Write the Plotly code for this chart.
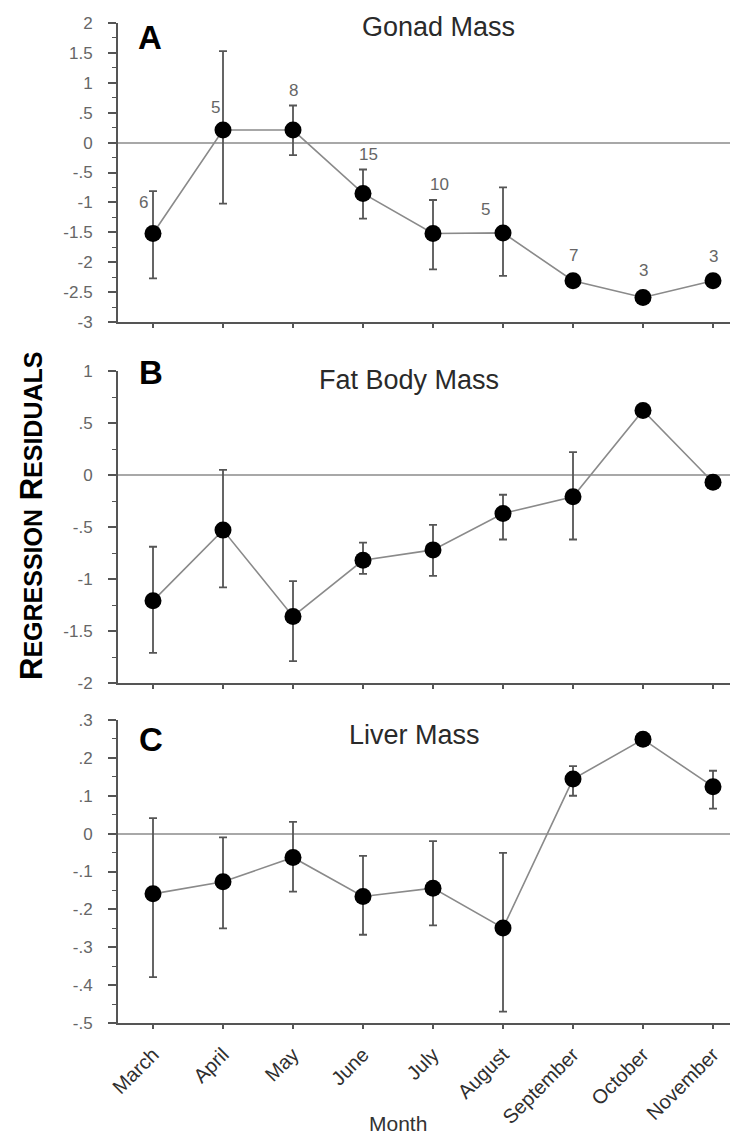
import plotly.graph_objects as go

months = ["March", "April", "May", "June", "July", "August", "September", "October", "November"]

# Panel A: Gonad Mass
gonad_mean = [-1.52, 0.21, 0.21, -0.85, -1.52, -1.51, -2.31, -2.59, -2.31]
gonad_err_up = [0.71, 1.32, 0.41, 0.40, 0.56, 0.76, None, None, None]
gonad_err_down = [0.75, 1.23, 0.42, 0.42, 0.60, 0.72, None, None, None]
gonad_n = [6, 5, 8, 15, 10, 5, 7, 3, 3]

# Panel B: Fat Body Mass
fat_mean = [-1.21, -0.53, -1.36, -0.82, -0.72, -0.37, -0.21, 0.62, -0.07]
fat_err_up = [0.52, 0.58, 0.34, 0.17, 0.24, 0.18, 0.43, None, None]
fat_err_down = [0.50, 0.55, 0.43, 0.13, 0.25, 0.25, 0.41, None, None]

# Panel C: Liver Mass
liver_mean = [-0.159, -0.127, -0.063, -0.166, -0.144, -0.249, 0.144, 0.249, 0.124]
liver_err_up = [0.200, 0.117, 0.094, 0.107, 0.124, 0.198, 0.034, None, 0.042]
liver_err_down = [0.220, 0.123, 0.090, 0.101, 0.098, 0.221, 0.044, None, 0.058]

tick_vals_a = [2, 1.5, 1, 0.5, 0, -0.5, -1, -1.5, -2, -2.5, -3]
tick_text_a = ["2", "1.5", "1", ".5", "0", "-.5", "-1", "-1.5", "-2", "-2.5", "-3"]
tick_vals_b = [1, 0.5, 0, -0.5, -1, -1.5, -2]
tick_text_b = ["1", ".5", "0", "-.5", "-1", "-1.5", "-2"]
tick_vals_c = [0.3, 0.2, 0.1, 0, -0.1, -0.2, -0.3, -0.4, -0.5]
tick_text_c = [".3", ".2", ".1", "0", "-.1", "-.2", "-.3", "-.4", "-.5"]

panel_titles = ["Gonad Mass", "Fat Body Mass", "Liver Mass"]
panel_letters = ["A", "B", "C"]

FONT = "Liberation Sans, Arial, sans-serif"
W, H = 738, 1135
ML, MR, MT, MB = 110, 0, 15, 120
PW, PH = W - ML - MR, H - MT - MB


def px(xp, yp):
    # page pixel -> paper coords
    return (xp - ML) / PW, (H - MB - yp) / PH


fig = go.Figure()

panels = [
    (gonad_mean, gonad_err_up, gonad_err_down, "x", "y"),
    (fat_mean, fat_err_up, fat_err_down, "x2", "y2"),
    (liver_mean, liver_err_up, liver_err_down, "x3", "y3"),
]

for mean, eu, ed, xa, ya in panels:
    fig.add_trace(go.Scatter(
        x=months, y=mean, mode="lines+markers",
        line=dict(color="#8a8a8a", width=1.6),
        marker=dict(color="black", size=17),
        error_y=dict(type="data", symmetric=False, array=eu, arrayminus=ed,
                     color="#555555", thickness=1.8, width=4),
        xaxis=xa, yaxis=ya, showlegend=False, hoverinfo="skip",
    ))

# domains from page pixel rows of each panel (top, bottom)
panel_rows = [(15, 314), (363, 675), (712, 1015)]
domains = []
for top, bot in panel_rows:
    domains.append((px(0, bot)[1], px(0, top)[1]))
ranges = [(-3, 2), (-2, 1), (-0.5, 0.3)]
ticks = [(tick_vals_a, tick_text_a, 0.25), (tick_vals_b, tick_text_b, 0.25), (tick_vals_c, tick_text_c, 0.05)]
xrange_ = [-0.5, -0.5 + PW / 70.0]

layout = dict(
    width=W, height=H,
    margin=dict(l=ML, r=MR, t=MT, b=MB),
    paper_bgcolor="white", plot_bgcolor="white",
    font=dict(family=FONT),
    showlegend=False,
)

for i in range(3):
    sfx = "" if i == 0 else str(i + 1)
    tv, tt, mdt = ticks[i]
    layout["xaxis" + sfx] = dict(
        domain=[0, 1], range=xrange_, anchor="y" + sfx,
        type="category", categoryorder="array", categoryarray=months,
        showgrid=False, zeroline=False,
        showline=True, linecolor="#555555", linewidth=2,
        ticks="outside", ticklen=4, tickwidth=1.5, tickcolor="#555555",
        tickmode="array", tickvals=months,
        showticklabels=(i == 2), tickangle=-45,
        tickfont=dict(size=20, color="#2e2e2e", family=FONT),
        ticklabelstandoff=6,
    )
    if i < 2:
        layout["xaxis" + sfx]["matches"] = "x3"
    layout["yaxis" + sfx] = dict(
        domain=[max(0, domains[i][0]), min(1, domains[i][1])], range=list(ranges[i]), anchor="x" + sfx,
        showgrid=False,
        zeroline=True, zerolinecolor="#a8a8a8", zerolinewidth=1.6,
        showline=True, linecolor="#555555", linewidth=2,
        ticks="outside", ticklen=8, tickwidth=1.5, tickcolor="#555555",
        tickmode="array", tickvals=tv, ticktext=tt,
        tickfont=dict(size=17, color="#666666", family=FONT),
        ticklabelstandoff=12,
        minor=dict(tickmode="linear", tick0=0, dtick=mdt, ticks="outside",
                   ticklen=4, tickwidth=1.2, tickcolor="#555555", showgrid=False),
    )

fig.update_layout(**layout)

annotations = []

# Panel letters and titles
letter_pos = [(142, 29), (143, 364), (143, 731)]
title_pos = [(430, 19), (401, 372), (406, 727)]
for i in range(3):
    lx, ly = px(*letter_pos[i])
    annotations.append(dict(x=lx, y=ly, xref="paper", yref="paper", text="<b>%s</b>" % panel_letters[i],
                            showarrow=False, font=dict(size=33, color="black", family=FONT),
                            xanchor="center", yanchor="middle"))
    tx, ty = px(*title_pos[i])
    annotations.append(dict(x=tx, y=ty, xref="paper", yref="paper", text=panel_titles[i],
                            showarrow=False, font=dict(size=27, color="#2a2a2a", family=FONT),
                            xanchor="center", yanchor="middle"))

# n labels (panel A)
n_xshift = [-10, -8, 0, 5, 6, -18, 0, 0, 0]
n_yshift = [-11, -56, 15, 15, 16, -22, 25, 27, 24]
for m, v, eu, n, dx, dy in zip(months, gonad_mean, gonad_err_up, gonad_n, n_xshift, n_yshift):
    top = v + (eu if eu is not None else 0)
    annotations.append(dict(x=m, y=top, xref="x", yref="y", text=str(n), showarrow=False,
                            xshift=dx, yshift=dy, xanchor="center", yanchor="middle",
                            font=dict(size=17, color="#666666", family=FONT)))

# Y axis title (small caps style)
yx, yy = px(23, 508)
annotations.append(dict(
    x=yx, y=yy, xref="paper", yref="paper", textangle=-90, showarrow=False,
    text="<b>R<span style='font-size:25px'>EGRESSION</span> R<span style='font-size:25px'>ESIDUALS</span></b>",
    font=dict(size=31, color="black", family=FONT), xanchor="center", yanchor="middle"))

# X axis title
mx, my = px(390, 1115)
annotations.append(dict(x=mx, y=my, xref="paper", yref="paper", text="Month", showarrow=False,
                        font=dict(size=21, color="#333333", family=FONT),
                        xanchor="center", yanchor="middle"))

fig.update_layout(annotations=annotations)

fig.write_html("out.html")
